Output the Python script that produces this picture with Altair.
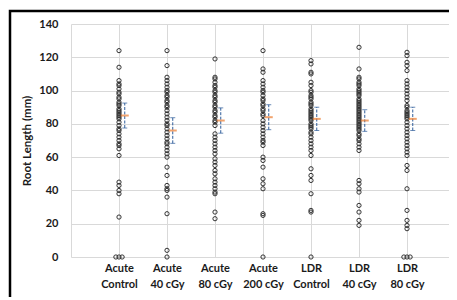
import json
import altair as alt
import pandas as pd

categories = ["Acute Control", "Acute 40 cGy", "Acute 80 cGy", "Acute 200 cGy",
              "LDR Control", "LDR 40 cGy", "LDR 80 cGy"]
label_lines = [["Acute", "Control"], ["Acute", "40 cGy"], ["Acute", "80 cGy"],
               ["Acute", "200 cGy"], ["LDR", "Control"], ["LDR", "40 cGy"], ["LDR", "80 cGy"]]

acute_control = [124, 114, 106, 104, 103, 101, 99, 98, 96, 95, 93, 92, 91, 89, 88, 87, 86, 85,
                 84, 83, 81, 79, 77, 76, 74, 72, 70, 68, 67, 65, 61, 45, 43, 40, 38, 24, 0, 0, 0]
acute_40 = [124, 115, 108, 106, 104, 102, 100, 99, 97, 96, 94, 93, 91, 90, 88, 86, 84, 82, 80,
            79, 77, 75, 73, 71, 69, 68, 66, 64, 62, 60, 54, 49, 43, 41, 40, 36, 26, 4, 0]
acute_80 = [119, 108, 107, 105, 103, 102, 100, 99, 97, 96, 94, 93, 91, 90, 88, 87, 85, 84, 82,
            81, 79, 74, 72, 70, 68, 66, 64, 62, 59, 57, 55, 52, 50, 47, 45, 43, 41, 39, 38, 27, 23]
acute_200 = [124, 113, 111, 106, 104, 102, 100, 99, 97, 95, 94, 92, 91, 89, 88, 86, 85, 82, 80,
             78, 76, 74, 72, 70, 69, 67, 60, 58, 54, 47, 44, 41, 26, 25, 0]
ldr_control = [118, 116, 111, 110, 105, 103, 100, 99, 97, 96, 95, 93, 92, 91, 89, 88, 87, 86, 85,
               84, 83, 82, 80, 79, 78, 77, 75, 74, 72, 70, 68, 66, 64, 61, 53, 49, 46, 38, 28, 27, 0]
ldr_40 = [126, 113, 108, 107, 105, 104, 103, 101, 100, 99, 98, 97, 95, 94, 93, 92, 91, 90, 89, 88,
          87, 86, 85, 84, 83, 82, 81, 80, 79, 78, 77, 76, 74, 73, 71, 70, 68, 66, 64, 46, 44, 41,
          39, 31, 27, 22, 19]
ldr_80 = [123, 121, 117, 115, 112, 106, 104, 102, 100, 98, 96, 94, 91, 90, 88, 87, 86, 85, 84, 83,
          81, 79, 77, 75, 73, 71, 69, 67, 65, 63, 61, 55, 52, 41, 28, 22, 19, 17, 0, 0, 0]

means = [85, 76, 82, 84, 83, 82, 83]
errors = [7.5, 7.7, 7.6, 7.5, 7.0, 6.5, 7.0]
y_ticks = [0, 20, 40, 60, 80, 100, 120, 140]

series = [acute_control, acute_40, acute_80, acute_200, ldr_control, ldr_40, ldr_80]

rows = []
for i, vals in enumerate(series):
    for v in vals:
        rows.append({"cat": categories[i], "idx": i + 1, "val": v})
pts = pd.DataFrame(rows)
grp = pts.groupby(["idx", "val"])
pts["k"] = grp.cumcount()
pts["n"] = grp["val"].transform("count")
pts["xp"] = pts["idx"] + (pts["k"] - (pts["n"] - 1) / 2) * 0.065

stats = pd.DataFrame({
    "cat": categories,
    "xp": [i + 1 + 0.12 for i in range(len(categories))],
    "mean": means,
    "lo": [m - e for m, e in zip(means, errors)],
    "hi": [m + e for m, e in zip(means, errors)],
})

label_table = [[""]] + label_lines + [[""]]
label_expr = json.dumps(label_table) + "[datum.value]"

PLOT_W = 378
xscale = alt.Scale(domain=[0, PLOT_W / 48], nice=False, zero=False)
yscale = alt.Scale(domain=[0, 140], nice=False)
xaxis = alt.Axis(values=list(range(8)), labelExpr=label_expr, title=None,
                 labelPadding=5, labelLineHeight=16, labelOverlap=False, labelFlush=False)
yaxis = alt.Axis(values=y_ticks, title="Root Length (mm)", labelPadding=13, titlePadding=6,
                 labelOverlap=False, labelFlush=False)


def X(field):
    return alt.X(field, type="quantitative", scale=xscale, axis=xaxis)


def Y(field):
    return alt.Y(field, type="quantitative", scale=yscale, axis=yaxis)


frame = alt.Chart(pd.DataFrame({"a": [0]})).mark_rect(
    fill=None, stroke="black", strokeWidth=2.5, clip=False
).encode(x=alt.value(-61), x2=alt.value(420), y=alt.value(-13), y2=alt.value(320))

points = alt.Chart(pts).mark_point(
    shape="circle", filled=False, size=18, stroke="#333333", strokeWidth=1, opacity=1
).encode(x=X("xp"), y=Y("val"))

base = alt.Chart(stats)
err = base.mark_rule(color="#2e5c9a", strokeWidth=1, strokeDash=[3, 1.5]).encode(
    x=X("xp"), y=Y("lo"), y2="hi:Q")
cap_hi = base.mark_tick(orient="horizontal", color="#2e5c9a", size=5, thickness=1).encode(
    x=X("xp"), y=Y("hi"))
cap_lo = base.mark_tick(orient="horizontal", color="#2e5c9a", size=5, thickness=1).encode(
    x=X("xp"), y=Y("lo"))
mean_mark = base.mark_tick(orient="horizontal", color="#ed7d31", size=8, thickness=2).encode(
    x=X("xp"), y=Y("mean"))

chart = alt.layer(points, err, cap_hi, cap_lo, mean_mark, frame).properties(
    width=PLOT_W, height=233,
    autosize=alt.AutoSizeParams(type="none"),
    padding={"left": 63, "top": 16, "right": 0, "bottom": 40},
).configure_view(stroke=None).configure_axis(
    domain=False, ticks=False, grid=True, gridColor="#d9d9d9", gridWidth=1,
    labelOverlap=False,
    labelFont="Lato", labelFontWeight="bold", labelFontSize=11, labelColor="#1a1a1a",
    titleFont="Lato", titleFontWeight="bold", titleFontSize=11.5, titleColor="#1a1a1a",
)

chart.save("out.html", embed_options={"renderer": "svg", "actions": False})
